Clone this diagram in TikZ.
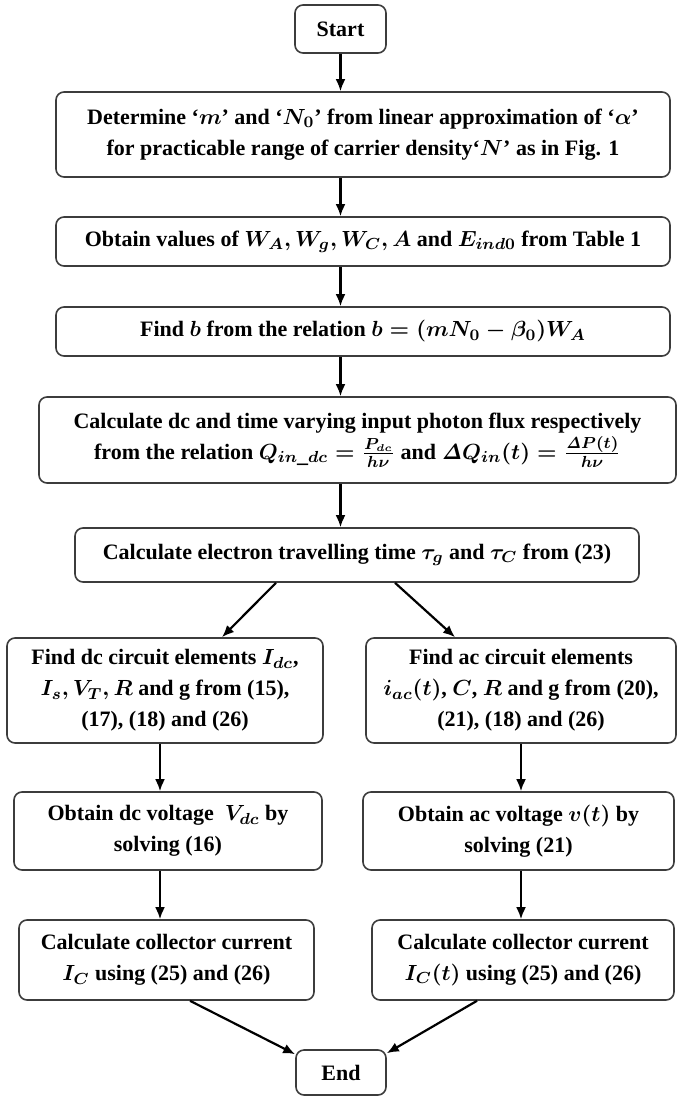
\documentclass[tikz,border=0pt]{standalone}
\usepackage[no-math]{fontspec}
\setmainfont{Liberation Serif}
\usetikzlibrary{arrows.meta}
\definecolor{boxgray}{RGB}{60,60,60}

\begin{document}
\begin{tikzpicture}[x=0.5pt,y=-0.5pt,
  stepbox/.style={draw=boxgray, line width=0.8pt, rounded corners=4pt, align=center,
    inner sep=0pt, font=\fontsize{11}{15.5}\selectfont\bfseries\boldmath},
  arr/.style={-{Latex[length=6pt,width=5pt]}, line width=1.1pt}]
\useasboundingbox (0,0) rectangle (677,1096);
% main column
\node[stepbox, minimum width=45.5pt, minimum height=24pt] (start) at (340.5,29) {Start};
\node[stepbox, minimum width=307pt, minimum height=42.5pt] (det) at (363,134.5)
  {Determine ‘$m$’ and ‘$N_0$’ from linear approximation of ‘$\alpha$’\\
   for practicable range of carrier density‘$N$’ as in Fig. 1};
\node[stepbox, minimum width=307pt, minimum height=24.5pt] (vals) at (363,241.5)
  {Obtain values of $W_A, W_g, W_C, A$ and $E_{ind0}$ from Table 1};
\node[stepbox, minimum width=307pt, minimum height=24.5pt] (findb) at (363,331.5)
  {Find $b$ from the relation $b=(mN_0-\beta_0)W_A$};
\node[stepbox, minimum width=318.5pt, minimum height=43pt] (flux) at (357.5,440)
  {Calculate dc and time varying input photon flux respectively\\
   from the relation $Q_{in\_dc}=\frac{P_{dc}}{h\nu}$ and $\mathit{\Delta} Q_{in}(t)=\frac{\mathit{\Delta} P(t)}{h\nu}$};
\node[stepbox, minimum width=282pt, minimum height=27pt] (tau) at (357,555)
  {Calculate electron travelling time $\tau_g$ and $\tau_C$ from (23)};
% dc branch
\node[stepbox, minimum width=158pt, minimum height=52.5pt] (dcel) at (165,690.5)
  {Find dc circuit elements $I_{dc}$,\\ $I_s, V_T, R$ and g from (15),\\ (17), (18) and (26)};
\node[stepbox, minimum width=154pt, minimum height=39pt] (vdc) at (168,831)
  {Obtain dc voltage\ \ $V_{dc}$ by\\ solving (16)};
\node[stepbox, minimum width=147.5pt, minimum height=40pt] (icdc) at (166.5,960)
  {Calculate collector current\\ $I_C$ using (25) and (26)};
% ac branch
\node[stepbox, minimum width=155pt, minimum height=52.5pt] (acel) at (521,690.5)
  {Find ac circuit elements\\ $i_{ac}(t)$, $C$, $R$ and g from (20),\\ (21), (18) and (26)};
\node[stepbox, minimum width=155.5pt, minimum height=39pt] (vac) at (518.5,831)
  {Obtain ac voltage $v(t)$ by\\ solving (21)};
\node[stepbox, minimum width=151pt, minimum height=40pt] (icac) at (523,960)
  {Calculate collector current\\ $I_C(t)$ using (25) and (26)};
\node[stepbox, minimum width=45pt, minimum height=22.5pt] (fin) at (341,1072.5) {End};
% connectors
\draw[arr] (start.south) -- (start.south |- det.north);
\draw[arr] (start.south |- det.south) -- (start.south |- vals.north);
\draw[arr] (start.south |- vals.south) -- (start.south |- findb.north);
\draw[arr] (start.south |- findb.south) -- (start.south |- flux.north);
\draw[arr] (start.south |- flux.south) -- (start.south |- tau.north);
\draw[arr] ([xshift=-40.5pt]tau.south) -- ([xshift=28.5pt]dcel.north);
\draw[arr] ([xshift=19pt]tau.south) -- ([xshift=-33pt]acel.north);
\draw[arr] ([xshift=-2.5pt]dcel.south) -- ([xshift=-2.5pt]dcel.south |- vdc.north);
\draw[arr] ([xshift=-2.5pt]dcel.south |- vdc.south) -- ([xshift=-2.5pt]dcel.south |- icdc.north);
\draw[arr] (acel.south) -- (acel.south |- vac.north);
\draw[arr] (acel.south |- vac.south) -- (acel.south |- icac.north);
\draw[arr] ([xshift=11.75pt]icdc.south) -- ([yshift=-2.5pt]fin.north west);
\draw[arr] ([xshift=-23pt]icac.south) -- ([yshift=-2pt]fin.north east);
\end{tikzpicture}
\end{document}
